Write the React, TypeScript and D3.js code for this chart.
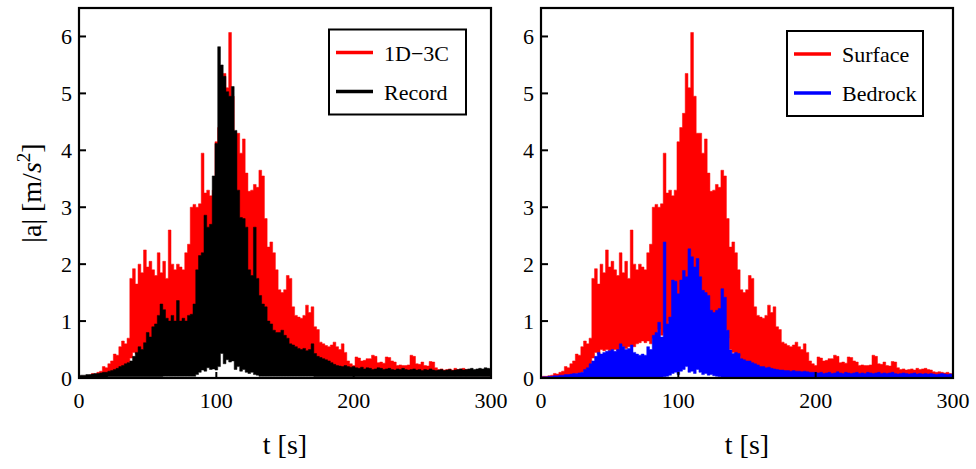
import React from 'react';
import * as d3 from 'd3';

// time step between samples (s)
const STEP = 2;

// 1D-3C simulated surface |a| (upper / lower envelope every 2 s, t = 0..300)
const accel1D3C = [
  0.02, 0.03, 0.03, 0.04, 0.05, 0.08, 0.07, 0.1, 0.12, 0.2,
  0.18, 0.25, 0.3, 0.42, 0.4, 0.55, 0.65, 0.6, 0.7, 1.75,
  1.92, 1.65, 2.0, 1.85, 2.25, 1.95, 2.05, 1.9, 1.8, 2.2,
  1.85, 2.05, 1.75, 2.6, 2.0, 1.9, 2.0, 1.95, 1.9, 2.2,
  2.35, 3.0, 3.05, 3.0, 3.06, 3.95, 3.25, 3.3, 3.2, 3.3,
  4.15, 4.4, 4.65, 5.35, 5.1, 6.07, 4.95, 4.3, 4.3, 3.95,
  4.2, 3.6, 3.28, 3.3, 3.4, 3.35, 3.65, 3.55, 2.8, 2.3,
  2.39, 2.2, 1.9, 1.55, 1.5, 1.55, 1.8, 1.75, 1.25, 1.1,
  1.07, 1.05, 1.1, 1.28, 1.15, 1.25, 0.9, 0.85, 0.63, 0.6,
  0.57, 0.55, 0.58, 0.63, 0.55, 0.5, 0.6, 0.45, 0.3, 0.25,
  0.22, 0.37, 0.35, 0.3, 0.31, 0.34, 0.34, 0.4, 0.38, 0.27,
  0.28, 0.26, 0.37, 0.36, 0.3, 0.28, 0.22, 0.23, 0.22, 0.22,
  0.23, 0.4, 0.38, 0.25, 0.24, 0.28, 0.22, 0.21, 0.29, 0.28,
  0.18, 0.15, 0.16, 0.14, 0.15, 0.16, 0.14, 0.17, 0.15, 0.16,
  0.17, 0.15, 0.14, 0.11, 0.1, 0.11, 0.1, 0.09, 0.1, 0.08,
  0.06,
];
const accel1D3CLow = [
  0, 0, 0, 0, 0.01, 0.01, 0.02, 0.02, 0.03, 0.04,
  0.05, 0.06, 0.07, 0.08, 0.08, 0.1, 0.12, 0.15, 0.2, 0.35,
  0.45, 0.42, 0.5, 0.48, 0.5, 0.48, 0.5, 0.5, 0.48, 0.52,
  0.55, 0.52, 0.55, 0.58, 0.55, 0.6, 0.62, 0.65, 0.62, 0.65,
  0.6, 0.7, 0.75, 0.85, 0.75, 0.8, 0.9, 1.0, 1.05, 1.1,
  1.1, 1.2, 1.25, 1.3, 1.3, 1.35, 1.3, 1.3, 1.25, 1.2,
  1.2, 1.15, 1.1, 1.1, 1.05, 1.0, 0.95, 0.85, 0.7, 0.5,
  0.45, 0.42, 0.38, 0.3, 0.28, 0.26, 0.25, 0.22, 0.2, 0.18,
  0.16, 0.16, 0.14, 0.15, 0.13, 0.12, 0.11, 0.1, 0.1, 0.09,
  0.09, 0.08, 0.09, 0.08, 0.08, 0.07, 0.08, 0.07, 0.07, 0.07,
  0.07, 0.06, 0.07, 0.05, 0.06, 0.07, 0.05, 0.06, 0.07, 0.06,
  0.05, 0.06, 0.06, 0.05, 0.06, 0.06, 0.05, 0.06, 0.05, 0.06,
  0.06, 0.05, 0.06, 0.06, 0.05, 0.06, 0.05, 0.06, 0.06, 0.05,
  0.04, 0.05, 0.06, 0.05, 0.04, 0.05, 0.06, 0.04, 0.05, 0.04,
  0.05, 0.04, 0.05, 0.04, 0.04, 0.04, 0.05, 0.04, 0.04, 0.04,
  0.04,
];

// Recorded surface |a|
const accelRecord = [
  0.04, 0.05, 0.05, 0.06, 0.06, 0.07, 0.08, 0.08, 0.09, 0.1,
  0.1, 0.12, 0.13, 0.15, 0.17, 0.2, 0.22, 0.25, 0.27, 0.3,
  0.38, 0.45, 0.55, 0.5, 0.62, 0.8, 0.72, 0.9, 0.95, 1.1,
  1.3, 1.2, 1.05, 1.0, 1.1, 1.0, 1.36, 1.0, 1.05, 1.0,
  1.1, 1.12, 1.3, 1.9, 2.15, 2.2, 2.86, 2.65, 2.7, 3.55,
  4.12, 5.82, 5.5, 5.3, 5.03, 4.95, 5.12, 4.35, 3.3, 2.82,
  2.8, 2.65, 1.9, 1.8, 2.65, 1.75, 1.45, 1.3, 1.25, 1.0,
  0.95, 0.84, 0.8, 0.8, 0.84, 0.75, 0.7, 0.6, 0.58, 0.55,
  0.52, 0.5, 0.52, 0.48, 0.5, 0.6, 0.43, 0.38, 0.36, 0.34,
  0.32, 0.3, 0.27, 0.24, 0.22, 0.21, 0.2, 0.22, 0.2, 0.19,
  0.2, 0.18, 0.17, 0.19, 0.16, 0.18, 0.17, 0.15, 0.16, 0.18,
  0.17, 0.15, 0.16, 0.17, 0.15, 0.14, 0.16, 0.15, 0.17, 0.15,
  0.14, 0.15, 0.16, 0.14, 0.15, 0.13, 0.15, 0.14, 0.16, 0.14,
  0.13, 0.14, 0.15, 0.13, 0.14, 0.15, 0.13, 0.14, 0.15, 0.16,
  0.14, 0.15, 0.16, 0.17, 0.15, 0.16, 0.17, 0.16, 0.18, 0.17,
  0.16,
];
const accelRecordLow = [
  0.01, 0.01, 0.01, 0.01, 0.01, 0.01, 0.01, 0.01, 0.01, 0.01,
  0.01, 0.02, 0.02, 0.02, 0.02, 0.02, 0.02, 0.02, 0.02, 0.02,
  0.02, 0.02, 0.02, 0.02, 0.02, 0.02, 0.02, 0.02, 0.02, 0.02,
  0.02, 0.03, 0.03, 0.03, 0.03, 0.03, 0.03, 0.03, 0.03, 0.03,
  0.03, 0.03, 0.03, 0.06, 0.1, 0.14, 0.12, 0.18, 0.15, 0.16,
  0.14, 0.2, 0.43, 0.25, 0.32, 0.28, 0.3, 0.15, 0.2, 0.12,
  0.15, 0.1, 0.08, 0.1, 0.06, 0.05, 0.03, 0.03, 0.03, 0.03,
  0.03, 0.03, 0.03, 0.03, 0.03, 0.03, 0.03, 0.03, 0.03, 0.03,
  0.03, 0.03, 0.03, 0.03, 0.03, 0.03, 0.02, 0.02, 0.02, 0.02,
  0.02, 0.02, 0.02, 0.02, 0.02, 0.02, 0.02, 0.02, 0.02, 0.02,
  0.02, 0.02, 0.02, 0.02, 0.02, 0.02, 0.02, 0.02, 0.02, 0.02,
  0.02, 0.02, 0.02, 0.02, 0.02, 0.02, 0.02, 0.02, 0.02, 0.02,
  0.02, 0.02, 0.02, 0.02, 0.02, 0.02, 0.02, 0.02, 0.02, 0.02,
  0.02, 0.02, 0.02, 0.02, 0.02, 0.02, 0.02, 0.02, 0.02, 0.02,
  0.02, 0.02, 0.02, 0.02, 0.02, 0.02, 0.02, 0.02, 0.02, 0.02,
  0.02,
];

// Surface trace (same simulated trace as 1D-3C)
const accelSurface = accel1D3C;
const accelSurfaceLow = accel1D3CLow;

// Bedrock |a|
const accelBedrock = [
  0.01, 0.02, 0.02, 0.03, 0.03, 0.04, 0.04, 0.05, 0.05, 0.06,
  0.06, 0.07, 0.08, 0.08, 0.09, 0.1, 0.15, 0.18, 0.25, 0.3,
  0.38, 0.45, 0.42, 0.45, 0.47, 0.48, 0.5, 0.47, 0.5, 0.6,
  0.55, 0.5, 0.52, 0.58, 0.45, 0.42, 0.4, 0.42, 0.4, 0.55,
  0.5, 0.75, 0.8, 0.98, 0.72, 2.39, 0.95, 1.07, 1.72, 1.7,
  1.48, 1.72, 1.89, 1.78, 2.27, 2.13, 1.95, 2.1, 1.78, 1.54,
  1.5, 1.45, 1.19, 1.15, 1.19, 1.22, 1.57, 1.42, 0.84, 0.49,
  0.43, 0.45, 0.43, 0.34, 0.32, 0.3, 0.3, 0.27, 0.25, 0.23,
  0.2, 0.2, 0.18, 0.19, 0.17, 0.16, 0.15, 0.14, 0.14, 0.13,
  0.13, 0.12, 0.13, 0.12, 0.12, 0.11, 0.12, 0.11, 0.1, 0.1,
  0.1, 0.09, 0.1, 0.08, 0.09, 0.1, 0.08, 0.09, 0.11, 0.09,
  0.08, 0.1, 0.09, 0.08, 0.09, 0.1, 0.08, 0.09, 0.08, 0.1,
  0.09, 0.08, 0.09, 0.1, 0.08, 0.09, 0.08, 0.09, 0.1, 0.08,
  0.07, 0.08, 0.09, 0.08, 0.07, 0.08, 0.09, 0.07, 0.08, 0.07,
  0.08, 0.07, 0.08, 0.07, 0.06, 0.07, 0.08, 0.07, 0.06, 0.07,
  0.06,
];
const accelBedrockLow = [
  0, 0, 0, 0, 0, 0, 0, 0, 0, 0,
  0, 0, 0, 0, 0, 0, 0, 0, 0, 0,
  0, 0, 0, 0, 0, 0, 0, 0, 0, 0,
  0, 0, 0, 0, 0, 0, 0, 0, 0, 0,
  0, 0, 0, 0, 0, 0.02, 0.03, 0.05, 0.08, 0.1,
  0.06, 0.12, 0.15, 0.2, 0.1, 0.12, 0.08, 0.15, 0.1, 0.06,
  0.08, 0.05, 0.06, 0.04, 0.03, 0.02, 0.01, 0.01, 0.01, 0.01,
  0.01, 0.01, 0.01, 0.01, 0.01, 0.01, 0.01, 0.01, 0.01, 0.01,
  0.01, 0.01, 0.01, 0.01, 0.01, 0.01, 0.01, 0.01, 0.01, 0.01,
  0.01, 0.01, 0.01, 0.01, 0.01, 0.01, 0.01, 0.01, 0.01, 0.01,
  0.01, 0.01, 0.01, 0.01, 0.01, 0.01, 0.01, 0.01, 0.01, 0.01,
  0.01, 0.01, 0.01, 0.01, 0.01, 0.01, 0.01, 0.01, 0.01, 0.01,
  0.01, 0.01, 0.01, 0.01, 0.01, 0.01, 0.01, 0.01, 0.01, 0.01,
  0.01, 0.01, 0.01, 0.01, 0.01, 0.01, 0.01, 0.01, 0.01, 0.01,
  0.01, 0.01, 0.01, 0.01, 0.01, 0.01, 0.01, 0.01, 0.01, 0.01,
  0.01,
];

const xTicks = [0, 100, 200, 300];
const yTicks = [0, 1, 2, 3, 4, 5, 6];
const xDomain = [0, 300];
const yDomain = [0, 6.5];
const xLabel = 't [s]';

const leftSeries = [
  { name: '1D\u22123C', peak: accel1D3C, low: accel1D3CLow, color: '#ff0000' },
  { name: 'Record', peak: accelRecord, low: accelRecordLow, color: '#000000' },
];
const rightSeries = [
  { name: 'Surface', peak: accelSurface, low: accelSurfaceLow, color: '#ff0000' },
  { name: 'Bedrock', peak: accelBedrock, low: accelBedrockLow, color: '#0000ff' },
];

const FONT = "'Liberation Serif', 'Times New Roman', Times, serif";
const TOP = 8;
const BOTTOM = 378;

type Series = { name: string; peak: number[]; low: number[]; color: string };

function Panel(props: {
  id: string;
  x0: number;
  x1: number;
  series: Series[];
  legend: { x: number; y: number; w: number; h: number };
  yLabel: boolean;
}) {
  const { id, x0, x1, series, legend, yLabel } = props;
  const x = d3.scaleLinear().domain(xDomain).range([x0, x1]);
  const y = d3.scaleLinear().domain(yDomain).range([BOTTOM, TOP]);
  const clip = `clip-${id}`;
  return (
    <g>
      <defs>
        <clipPath id={clip}>
          <rect x={x0} y={TOP} width={x1 - x0} height={BOTTOM - TOP} />
        </clipPath>
      </defs>
      <g clipPath={`url(#${clip})`}>
        {series.map((s) => {
          const area = d3
            .area<number>()
            .x((_, i) => x(i * STEP))
            .y0((_, i) => y(s.low[i]))
            .y1((d) => y(d))
            .curve(d3.curveStep);
          return (
            <path
              key={s.name}
              d={area(s.peak) || ''}
              fill={s.color}
              stroke={s.color}
              strokeWidth={0.5}
            />
          );
        })}
      </g>
      <rect x={x0} y={TOP} width={x1 - x0} height={BOTTOM - TOP} fill="none" stroke="#000" strokeWidth={2.2} />
      {yTicks.map((v) => (
        <g key={`y${v}`}>
          <line x1={x0} x2={x0 + 7} y1={y(v)} y2={y(v)} stroke="#000" strokeWidth={2} />
          <text x={x0 - 7} y={y(v) + 7.5} textAnchor="end" fontSize={22} fontFamily={FONT}>
            {v}
          </text>
        </g>
      ))}
      {xTicks.map((v) => (
        <g key={`x${v}`}>
          <line x1={x(v)} x2={x(v)} y1={BOTTOM} y2={BOTTOM - 6} stroke="#000" strokeWidth={2} />
          <text x={x(v)} y={408} textAnchor="middle" fontSize={22} fontFamily={FONT}>
            {v}
          </text>
        </g>
      ))}
      <text x={(x0 + x1) / 2} y={454} textAnchor="middle" fontSize={28} fontFamily={FONT}>
        {xLabel}
      </text>
      {yLabel && (
        <text
          transform={`translate(41, ${(TOP + BOTTOM) / 2}) rotate(-90)`}
          textAnchor="middle"
          fontSize={28}
          fontFamily={FONT}
        >
          |a| [m/<tspan fontStyle="italic">s</tspan>
          <tspan fontSize={19} dy={-11}>2</tspan>
          <tspan dy={11}>]</tspan>
        </text>
      )}
      <rect
        x={legend.x}
        y={legend.y}
        width={legend.w}
        height={legend.h}
        fill="#fff"
        stroke="#000"
        strokeWidth={2}
      />
      {series.map((s, i) => {
        const ly = legend.y + 23 + i * 39;
        return (
          <g key={`lg${s.name}`}>
            <line x1={legend.x + 7} x2={legend.x + 44} y1={ly} y2={ly} stroke={s.color} strokeWidth={3.3} />
            <text x={legend.x + 55} y={ly + 8} fontSize={22} fontFamily={FONT}>
              {s.name}
            </text>
          </g>
        );
      })}
    </g>
  );
}

export default function App() {
  return (
    <svg
      width={976}
      height={469}
      style={{ position: 'absolute', left: 0, top: 0, background: '#fff' }}
    >
      <rect x={0} y={0} width={976} height={469} fill="#fff" />
      <Panel
        id="left"
        x0={79}
        x1={491}
        series={leftSeries}
        legend={{ x: 329, y: 29.5, w: 137, h: 85 }}
        yLabel={true}
      />
      <Panel
        id="right"
        x0={541}
        x1={953}
        series={rightSeries}
        legend={{ x: 787, y: 31, w: 136, h: 85 }}
        yLabel={false}
      />
    </svg>
  );
}
